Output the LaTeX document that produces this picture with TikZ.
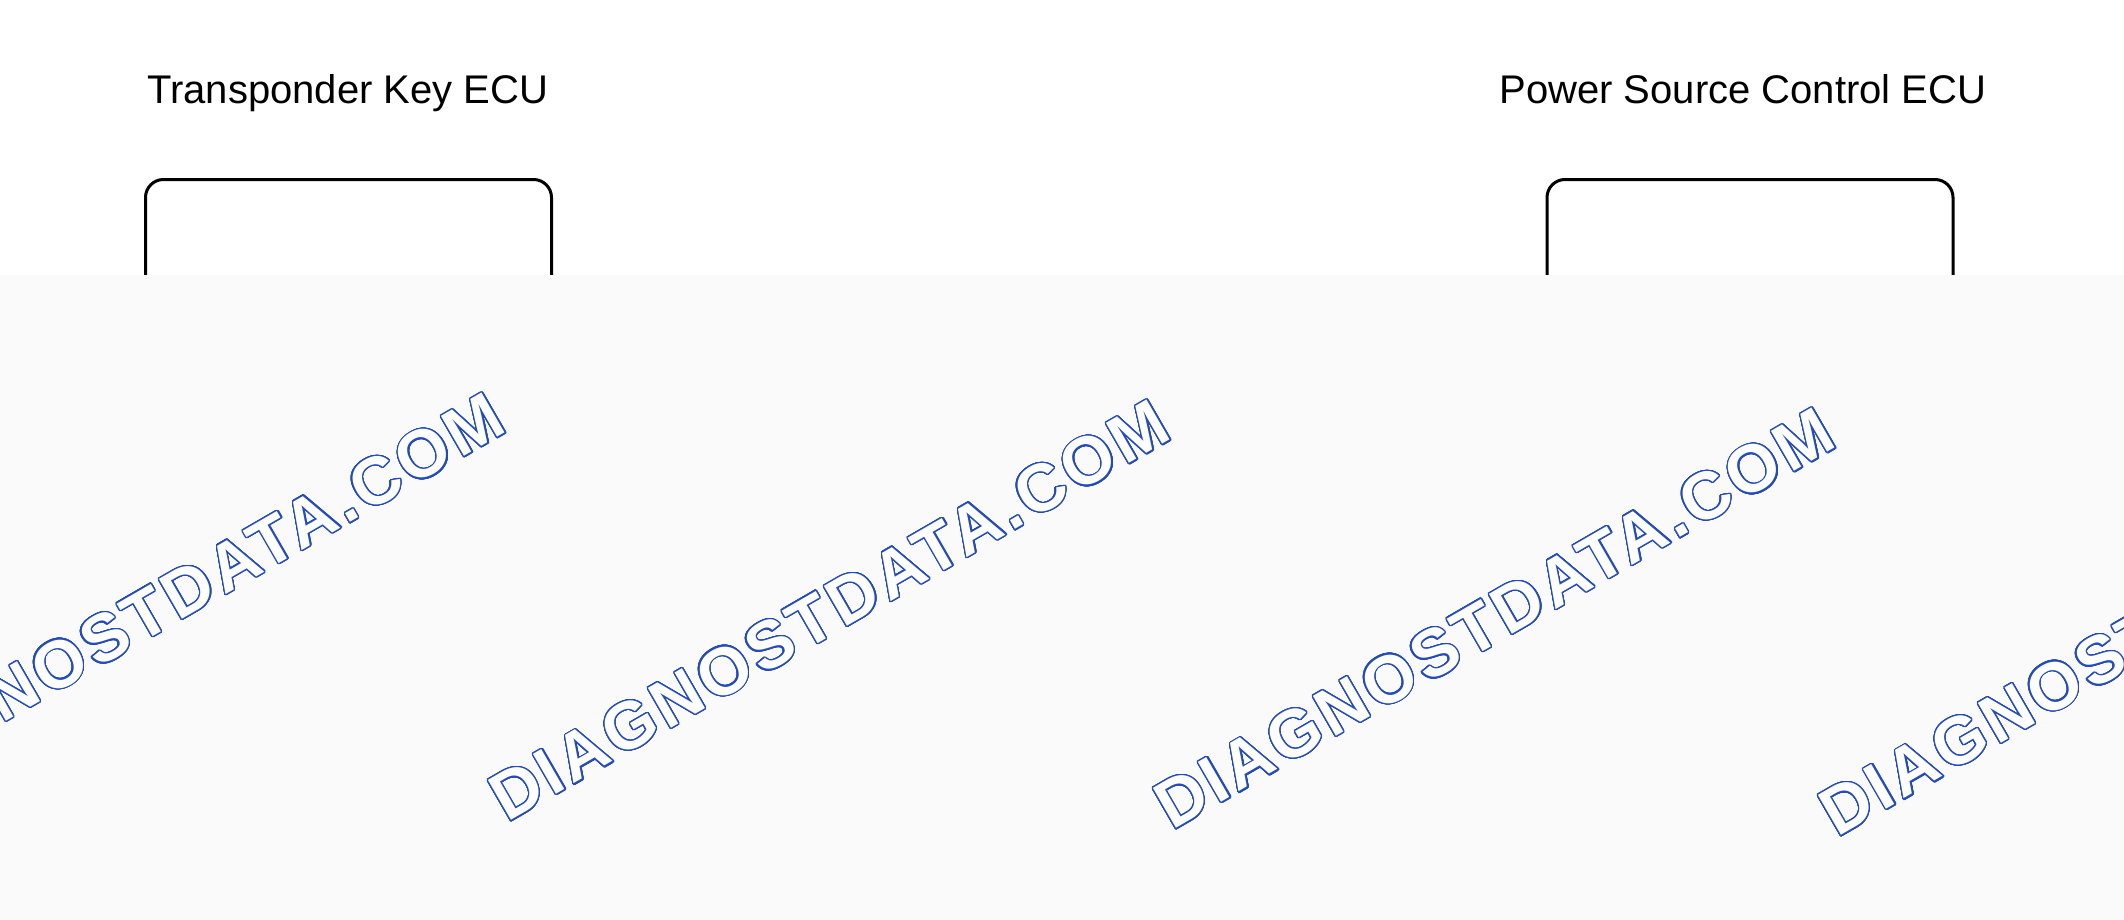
\documentclass[tikz,border=0pt]{standalone}
\usepackage{fontspec}
\setmainfont{Liberation Sans}
\usepackage{contour}
\contourlength{0.65pt}
\contournumber{32}
\definecolor{wmblue}{RGB}{35,75,185}
\definecolor{veil}{RGB}{250,250,251}
\begin{document}
\begin{tikzpicture}[x=0.5pt,y=-0.5pt,
  ecubox/.style={draw=black, line width=1.5pt, rounded corners=9pt, fill=white,
    outer sep=0pt, inner sep=0pt, minimum width=203pt, minimum height=150pt, anchor=north west},
  title/.style={font=\fontsize{20pt}{23pt}\selectfont, anchor=base west, inner sep=0pt},
  wmark/.style={font=\fontsize{33.5pt}{40pt}\selectfont\bfseries\addfontfeatures{LetterSpace=6.5},
    anchor=base west, inner sep=0pt, rotate=30}]
\useasboundingbox (0,0) rectangle (2124,920);
\clip (0,0) rectangle (2124,920);
\fill[white] (0,0) rectangle (2124,920);
\node[title] (t1) at (147,104) {Transponder Key ECU};
\node[title] (t2) at (1499,104) {Power Source Control ECU};
\node[ecubox] (b1) at (145.5,179.5) {};
\node[ecubox] (b2) at (1547,179.5) {};
\fill[veil] (0,275) rectangle (2124,920);
\node[wmark] (w1) at (-158,816) {\contour{wmblue}{\textcolor{white}{DIAGNOSTDATA.COM}}};
\node[wmark] (w2) at (507,823) {\contour{wmblue}{\textcolor{white}{DIAGNOSTDATA.COM}}};
\node[wmark] (w3) at (1172,831) {\contour{wmblue}{\textcolor{white}{DIAGNOSTDATA.COM}}};
\node[wmark] (w4) at (1837,838) {\contour{wmblue}{\textcolor{white}{DIAGNOSTDATA.COM}}};
\end{tikzpicture}
\end{document}
